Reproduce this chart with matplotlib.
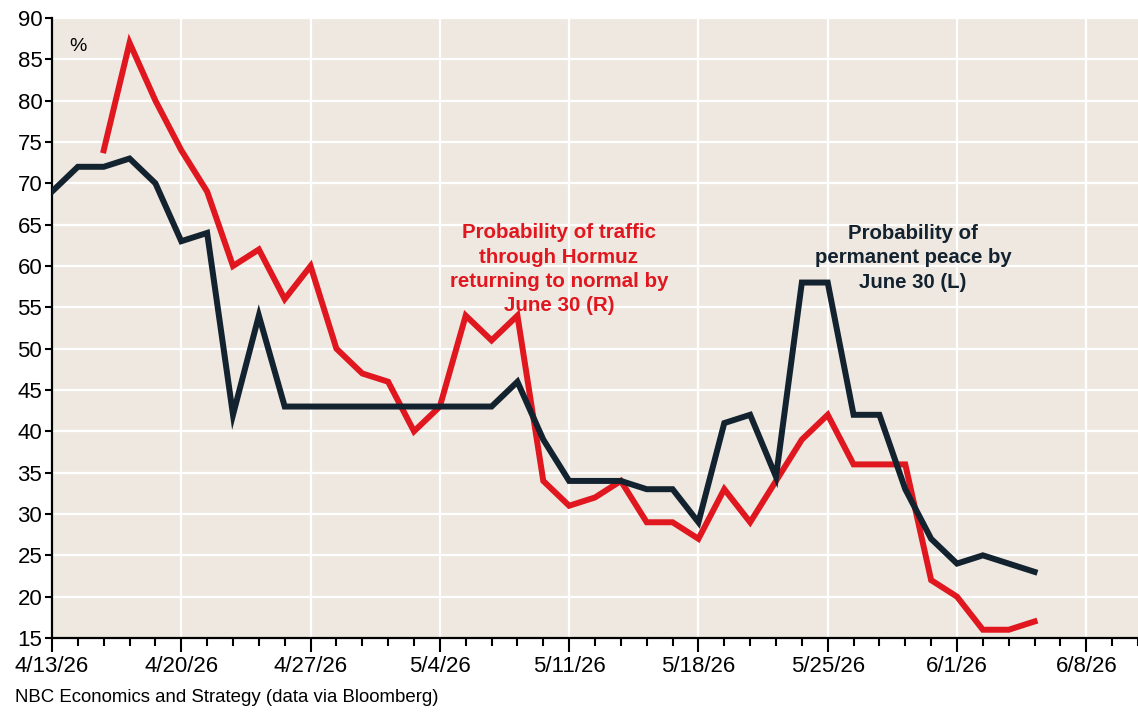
import matplotlib
matplotlib.use("Agg")
import matplotlib.pyplot as plt
import numpy as np

plt.rcParams['font.family'] = ['Liberation Sans', 'DejaVu Sans']

# business-day index starting 4/13/26
tick_labels = ["4/13/26", "4/20/26", "4/27/26", "5/4/26", "5/11/26",
               "5/18/26", "5/25/26", "6/1/26", "6/8/26"]

peace = [69, 72, 72, 73, 70, 63, 64, 42, 54, 43,
         43, 43, 43, 43, 43, 43, 43, 43, 46, 39,
         34, 34, 34, 33, 33, 29, 41, 42, 34.5, 58,
         58, 42, 42, 33, 27, 24, 25, 24, 23]

hormuz = [None, None, 74, 87, 80, 74, 69, 60, 62, 56,
          60, 50, 47, 46, 40, 43, 54, 51, 54, 34,
          31, 32, 34, 29, 29, 27, 33, 29, 34, 39,
          42, 36, 36, 36, 22, 20, 16, 16, 17]

x_peace = np.arange(len(peace))
h_idx = [i for i, v in enumerate(hormuz) if v is not None]
h_val = [hormuz[i] for i in h_idx]

fig = plt.figure(figsize=(11.38, 7.13), dpi=100)
ax = fig.add_axes([52/1138, 1-638/713, 1-52/1138, (638-18)/713])
ax.set_facecolor('#EFE8E1')

navy = '#13222F'
red = '#E0171F'

ax.plot(h_idx, h_val, color=red, lw=4.3, solid_joinstyle='miter', zorder=3)
ax.plot(x_peace, peace, color=navy, lw=4.3, solid_joinstyle='miter', zorder=4)

ax.set_xlim(0, 42)
ax.set_ylim(15, 90)
ax.set_yticks(np.arange(15, 91, 5))
ax.set_xticks(np.arange(0, 41, 5))
ax.set_xticklabels(tick_labels)
ax.set_xticks(np.arange(0, 43, 1), minor=True)

ax.grid(True, which='major', color='white', lw=1.6, zorder=0)
ax.set_axisbelow(True)

for s in ['top', 'right']:
    ax.spines[s].set_visible(False)
for s in ['left', 'bottom']:
    ax.spines[s].set_linewidth(1.6)
    ax.spines[s].set_color('black')

ax.tick_params(axis='y', which='major', direction='out', length=5, width=1.5,
               labelsize=16, pad=2)
ax.tick_params(axis='x', which='major', direction='out', length=10, width=1.5,
               labelsize=16, pad=3)
ax.tick_params(axis='x', which='minor', direction='out', length=6, width=1.5)

ax.text(0.65, 86.6, '%', fontsize=14, color='black', ha='left', va='center')

ax.text(19.6, 59.6, 'Probability of traffic\nthrough Hormuz\nreturning to normal by\nJune 30 (R)',
        color=red, fontsize=14.8, fontweight='bold', ha='center', va='center',
        linespacing=1.36)
ax.text(33.3, 61.0, 'Probability of\npermanent peace by\nJune 30 (L)',
        color=navy, fontsize=14.7, fontweight='bold', ha='center', va='center',
        linespacing=1.36)

fig.text(15/1138, 1-697/713, 'NBC Economics and Strategy (data via Bloomberg)',
         fontsize=13.4, ha='left', va='center', color='black')

fig.savefig('out.png', dpi=100, facecolor='white')
